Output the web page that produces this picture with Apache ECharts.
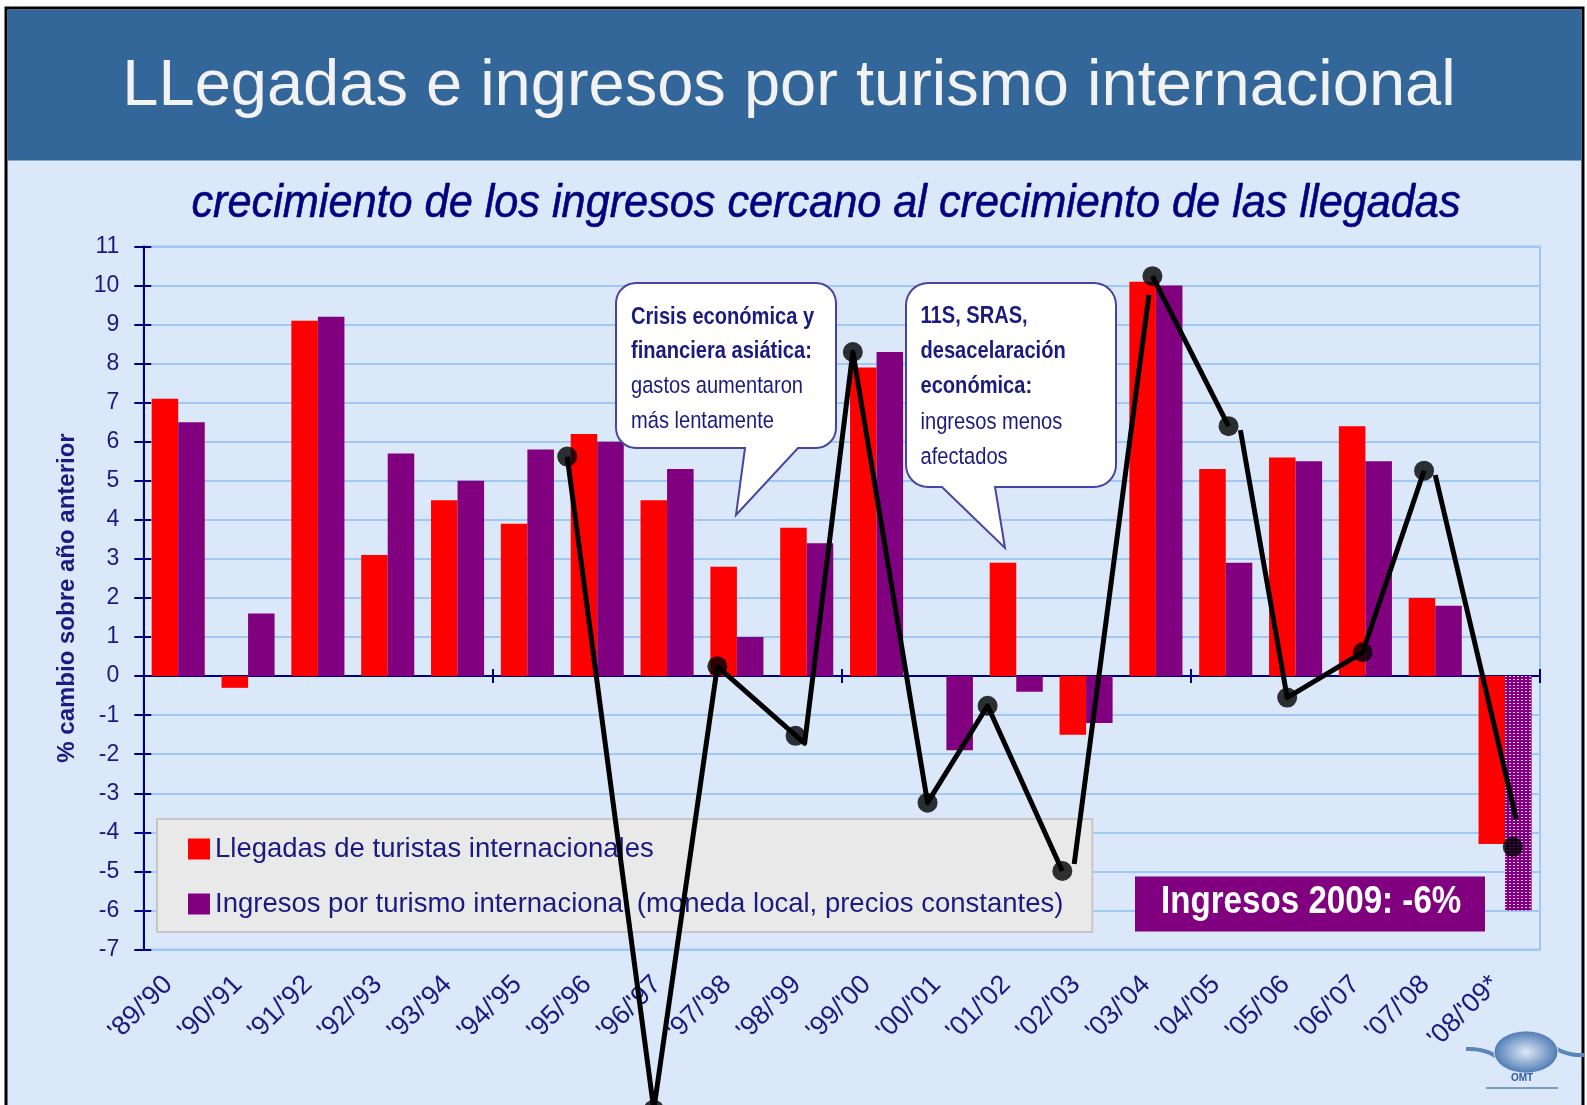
<!DOCTYPE html>
<html>
<head>
<meta charset="utf-8">
<script src="https://cdn.jsdelivr.net/npm/echarts@6/dist/echarts.min.js"></script>
<style>
html,body{margin:0;padding:0;background:#ffffff;}
#chart{width:1587px;height:1105px;}
</style>
</head>
<body>
<div id="chart"></div>
<script>
// ---------- data ----------
const categories = ["'89/'90","'90/'91","'91/'92","'92/'93","'93/'94","'94/'95","'95/'96","'96/'97","'97/'98","'98/'99",
                    "'99/'00","'00/'01","'01/'02","'02/'03","'03/'04","'04/'05","'05/'06","'06/'07","'07/'08","'08/'09*"];
const arrivals = [7.1, -0.3, 9.1, 3.1, 4.5, 3.9, 6.2, 4.5, 2.8, 3.8, 7.9, 0, 2.9, -1.5, 10.1, 5.3, 5.6, 6.4, 2.0, -4.3];
const receipts = [6.5, 1.6, 9.2, 5.7, 5.0, 5.8, 6.0, 5.3, 1.0, 3.4, 8.3, -1.9, -0.4, -1.2, 10.0, 2.9, 5.5, 5.5, 1.8, -6.0];
const seriesNames = ['Llegadas de turistas internacionales',
                     'Ingresos por turismo internacional (moneda local, precios constantes)'];
// black overlay line: x in category units (0..20), y in %
const lineSegA = [[6.07,5.62],[7.31,-11.1],[8.22,0.25],[9.47,-1.72],[10.16,8.30],[11.23,-3.24],[12.09,-0.76],[13.16,-4.99]];
const lineSegB = [[13.33,-4.81],[14.40,9.76]];
const lineSegC = [[14.45,10.24],[15.54,6.40]];
const lineSegD = [[15.71,6.30],[16.38,-0.55],[17.46,0.61],[18.34,5.26]];
const lineSegE = [[18.50,5.15],[19.66,-3.66]];
const dotPoints = [[6.07,5.62],[7.31,-11.1],[8.22,0.25],[9.34,-1.53],[10.16,8.30],[11.23,-3.24],[12.09,-0.76],
                   [13.16,-4.99],[14.45,10.24],[15.54,6.40],[16.38,-0.55],[17.46,0.61],[18.34,5.26],[19.61,-4.37]];
const yMin = -7, yMax = 11;
const callout1Bold = ['Crisis económica y', 'financiera asiática:'];
const callout1Reg = ['gastos aumentaron', 'más lentamente'];
const callout2Bold = ['11S, SRAS,', 'desacelaración', 'económica:'];
const callout2Reg = ['ingresos menos', 'afectados'];
const titleText = 'LLegadas e ingresos por turismo internacional';
const subtitleText = 'crecimiento de los ingresos cercano al crecimiento de las llegadas';
const boxText = 'Ingresos 2009: -6%';

// ---------- style ----------
const FONT = '"Liberation Sans", Arial, sans-serif';
const NAVY = '#000080';
const TXT = '#1a1a80';
const GRIDC = '#9fc9f4';

const pc = document.createElement('canvas');
pc.width = 4; pc.height = 3;
const pctx = pc.getContext('2d');
pctx.fillStyle = '#800080'; pctx.fillRect(0,0,4,3);
pctx.fillStyle = '#e4c2ea'; pctx.fillRect(1,1,2,1);

const receiptsData = receipts.map((v, i) => i === receipts.length - 1
  ? { value: v, itemStyle: { color: { image: pc, repeat: 'repeat' } } }
  : v);

const lineSeries = [lineSegA, lineSegB, lineSegC, lineSegD, lineSegE].map(seg => ({
  type: 'line', xAxisIndex: 1, yAxisIndex: 0, data: seg, showSymbol: false, symbol: 'none',
  lineStyle: { color: '#000', width: 5, join: 'round' }, clip: false, z: 10, silent: true, animation: false
}));

// speech-bubble outline (rounded box + tail)
function bubble(x0, y0, x1, y1, r, tailR, tip, tailL) {
  const pts = [];
  function arc(cx, cy, a0, a1) {
    for (let k = 0; k <= 8; k++) {
      const a = a0 + (a1 - a0) * k / 8;
      pts.push([cx + r * Math.cos(a), cy + r * Math.sin(a)]);
    }
  }
  const P = Math.PI;
  arc(x0 + r, y0 + r, P, 1.5 * P);
  arc(x1 - r, y0 + r, 1.5 * P, 2 * P);
  arc(x1 - r, y1 - r, 0, 0.5 * P);
  pts.push([tailR, y1], tip, [tailL, y1]);
  arc(x0 + r, y1 - r, 0.5 * P, P);
  return pts;
}

const chart = echarts.init(document.getElementById('chart'), null, { renderer: 'canvas' });

function lineTexts(lines, x, y0, dy, bold) {
  return lines.map((t, i) => ({
    type: 'text', x: x, y: y0 + i * dy, scaleX: 0.82, z: 6,
    style: { text: t, x: 0, y: 0, font: (bold ? 'bold ' : '') + '24.5px ' + FONT, fill: TXT,
             textAlign: 'left', verticalAlign: 'middle' }
  }));
}

const graphics = [
  { type: 'rect', z: -10, shape: { x: 6, y: 8, width: 1577, height: 1200 },
    style: { fill: '#dae8fa', stroke: '#000', lineWidth: 3 } },
  { type: 'rect', z: -9, shape: { x: 7.5, y: 9.5, width: 1574, height: 151 }, style: { fill: '#336699' } },
  { type: 'text', x: 789, y: 87, z: 5,
    style: { text: titleText, font: '65px ' + FONT, fill: '#f2f2f2', textAlign: 'center', verticalAlign: 'middle' } },
  { type: 'text', x: 826, y: 204, scaleX: 0.94, z: 5,
    style: { text: subtitleText, x: 0, y: 0, font: 'italic 46px ' + FONT, fill: NAVY, textAlign: 'center', verticalAlign: 'middle',
             stroke: NAVY, lineWidth: 0.6 } },
  { type: 'polygon', z: 5, shape: { points: bubble(616, 283, 836, 448, 20, 798, [736, 515], 745) },
    style: { fill: '#ffffff', stroke: '#4646a0', lineWidth: 2 } },
  { type: 'polygon', z: 5, shape: { points: bubble(906, 283, 1116, 487, 22, 995, [1005, 548], 942) },
    style: { fill: '#ffffff', stroke: '#4646a0', lineWidth: 2 } },
  ...lineTexts(callout1Bold, 631, 317.4, 33.5, true),
  ...lineTexts(callout1Reg, 631, 385.9, 35.5, false),
  ...lineTexts(callout2Bold, 920.5, 316.4, 35, true),
  ...lineTexts(callout2Reg, 920.5, 422.4, 35, false),
  { type: 'rect', z: 6, shape: { x: 1135, y: 876.5, width: 350, height: 55 }, style: { fill: '#800080' } },
  { type: 'text', x: 1161, y: 902.5, scaleX: 0.85, z: 7,
    style: { text: boxText, x: 0, y: 0, font: 'bold 39px ' + FONT, fill: '#ffffff', textAlign: 'left', verticalAlign: 'middle' } },
  // logo
  { type: 'bezierCurve', z: 3, shape: { x1: 1466, y1: 1049, cpx1: 1500, cpy1: 1047, cpx2: 1505, cpy2: 1072, x2: 1527, y2: 1071 },
    style: { fill: 'none', stroke: '#5b86bb', lineWidth: 4 } },
  { type: 'bezierCurve', z: 3, shape: { x1: 1585, y1: 1055, cpx1: 1551, cpy1: 1057, cpx2: 1547, cpy2: 1033, x2: 1525, y2: 1033 },
    style: { fill: 'none', stroke: '#5b86bb', lineWidth: 4 } },
  { type: 'circle', z: 4, x: 1526, y: 1052, scaleY: 0.66, shape: { cx: 0, cy: 0, r: 32 },
    style: { fill: { type: 'radial', x: 0.5, y: 0.5, r: 0.6, colorStops: [{ offset: 0, color: '#dfe9f6' }, { offset: 1, color: '#2f64a6' }] },
             stroke: '#e6eefa', lineWidth: 1 } },
  { type: 'text', x: 1522, y: 1078, z: 5,
    style: { text: 'OMT', font: 'bold 10px ' + FONT, fill: '#2c5e9e', textAlign: 'center', verticalAlign: 'middle' } },
  { type: 'line', z: 5, shape: { x1: 1486, y1: 1088, x2: 1558, y2: 1088 }, style: { stroke: '#7b9cc8', lineWidth: 2 } }
];

const option = {
  backgroundColor: '#ffffff',
  animation: false,
  textStyle: { fontFamily: FONT },
  grid: { left: 143.3, right: 47, top: 246.5, bottom: 155.5, containLabel: false,
          show: true, borderColor: GRIDC, borderWidth: 2, backgroundColor: 'transparent' },
  legend: {
    data: seriesNames, orient: 'vertical', left: 157, top: 819,
    padding: [16, 29, 14, 31], itemGap: 27, itemWidth: 22, itemHeight: 21, icon: 'rect',
    backgroundColor: '#e9e9e9', borderColor: '#c6c6c6', borderWidth: 2, borderRadius: 0,
    selectedMode: false, textStyle: { fontSize: 27.5, color: TXT, fontFamily: FONT }
  },
  xAxis: [
    { type: 'category', data: categories, position: 'bottom', boundaryGap: true,
      axisLine: { show: false, onZero: false }, axisTick: { show: false },
      axisLabel: { interval: 0, rotate: 45, margin: 21, padding: [0, 14, 0, 0], fontSize: 27, color: TXT, fontFamily: FONT },
      splitLine: { show: false } },
    { type: 'value', min: 0, max: 20, interval: 5, position: 'bottom',
      axisLine: { show: true, onZero: true, onZeroAxisIndex: 0, lineStyle: { color: NAVY, width: 2 } },
      axisTick: { show: true, length: 7, lineStyle: { color: NAVY, width: 2 } },
      axisLabel: { show: false }, splitLine: { show: false } },
    { type: 'value', min: 0, max: 20, interval: 5, position: 'top',
      axisLine: { show: true, onZero: true, onZeroAxisIndex: 0, lineStyle: { color: NAVY, width: 2 } },
      axisTick: { show: true, length: 7, lineStyle: { color: NAVY, width: 2 } },
      axisLabel: { show: false }, splitLine: { show: false } }
  ],
  yAxis: [
    { type: 'value', min: yMin, max: yMax, interval: 1, position: 'left',
      name: '% cambio sobre año anterior', nameLocation: 'middle', nameGap: 64,
      nameTextStyle: { fontSize: 24, fontWeight: 'bold', color: TXT, fontFamily: FONT },
      axisLine: { show: true, onZero: false, lineStyle: { color: NAVY, width: 2 } },
      axisTick: { show: true, length: 9, lineStyle: { color: NAVY, width: 2 } },
      axisLabel: { fontSize: 23, color: TXT, margin: 24, fontFamily: FONT },
      splitLine: { show: true, lineStyle: { color: GRIDC, width: 2 } } },
    { type: 'value', min: yMin, max: yMax, interval: 1, position: 'left',
      axisLine: { show: false, onZero: false },
      axisTick: { show: true, inside: true, length: 8, lineStyle: { color: NAVY, width: 2 } },
      axisLabel: { show: false }, splitLine: { show: false } }
  ],
  graphic: { elements: graphics },
  series: [
    { name: seriesNames[0], type: 'bar', xAxisIndex: 0, yAxisIndex: 0, data: arrivals,
      itemStyle: { color: '#ff0000' }, barGap: '0%', barCategoryGap: '24%', z: 2 },
    { name: seriesNames[1], type: 'bar', xAxisIndex: 0, yAxisIndex: 0, data: receiptsData,
      itemStyle: { color: '#800080' }, barGap: '0%', barCategoryGap: '24%', z: 2 },
    ...lineSeries,
    { type: 'scatter', xAxisIndex: 1, yAxisIndex: 0, data: dotPoints, symbol: 'circle', symbolSize: 20,
      itemStyle: { color: '#000000' }, clip: false, z: 11, silent: true }
  ]
};
chart.setOption(option);
</script>
</body>
</html>
